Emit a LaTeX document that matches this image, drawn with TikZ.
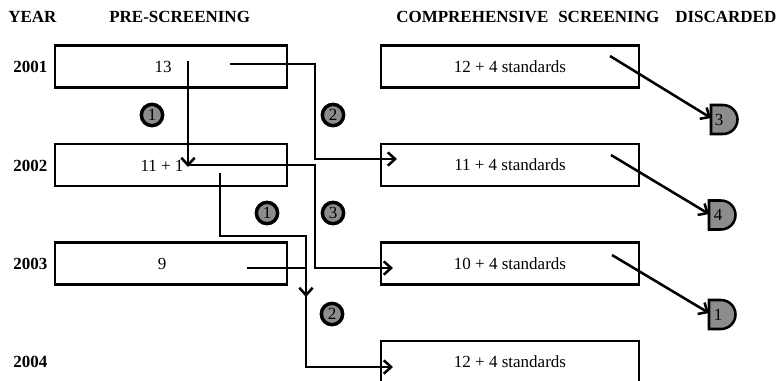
\documentclass[tikz,border=0pt]{standalone}
\usepackage{fontspec}
\setmainfont{Liberation Serif}
\usetikzlibrary{arrows.meta}

% D-shaped "discarded" marker: left edge x, vertical centre y (pixel units)
\newcommand\discardmark[2]{%
  \draw[dbox] (#1,#2-14.5) -- (#1+12,#2-14.5)
    arc[start angle=90, end angle=-90, radius=10.875pt] -- (#1,#2+14.5) -- cycle;}

\begin{document}
\begin{tikzpicture}[x=0.75pt,y=-0.75pt,
  every node/.style={font=\fontsize{12.75}{15}\selectfont, inner sep=0pt},
  head/.style={font=\fontsize{12.75}{15}\selectfont\bfseries, anchor=west},
  stage/.style={draw, line width=1.9pt, minimum height=31.5pt},
  pre/.style={stage, minimum width=174pt},
  comp/.style={stage, minimum width=193.5pt},
  flow/.style={line width=1.9pt, -{Straight Barb[length=5.5pt,width=10pt]}},
  badge/.style={circle, draw, line width=2.6pt, fill=black!45, minimum size=16pt},
  dbox/.style={draw, line width=1.9pt, fill=black!45}
]
\useasboundingbox (0,0) rectangle (777,380);

% column headings
\node[head] (hyear) at (8,17) {YEAR};
\node[head] (hpre)  at (109,17) {PRE-SCREENING};
\node[head] (hcomp) at (396,17) {COMPREHENSIVE};
\node[head] (hscr)  at (558,17) {SCREENING};
\node[head] (hdis)  at (675,17) {DISCARDED};

% years
\node[head] (y1) at (13,67)  {2001};
\node[head] (y2) at (13,166) {2002};
\node[head] (y3) at (13,264) {2003};
\node[head] (y4) at (13,362) {2004};

% pre-screening boxes
\node[pre] (p1) at (171,66.5)  {};
\node[pre] (p2) at (171,165)   {};
\node[pre] (p3) at (171,263.3) {};
\node (p1t) at (163,67)  {13};
\node (p2t) at (162,166) {11 + 1};
\node (p3t) at (162,264) {9};

% comprehensive screening boxes
\node[comp] (c1) at (510,66.5)  {12 + 4 standards};
\node[comp] (c2) at (510,165)   {11 + 4 standards};
\node[comp] (c3) at (510,263.3) {10 + 4 standards};
\node[comp] (c4) at (510,362)   {12 + 4 standards};

% discarded markers
\discardmark{711}{119.5}
\discardmark{709}{215}
\discardmark{709}{314.5}
\node (k1) at (719,119.5) {3};
\node (k2) at (718,215)   {4};
\node (k3) at (718,314.5) {1};

% connector ends and bends
\coordinate (a1s) at (188,61);  \coordinate (a1e) at (188,167);
\coordinate (a2s) at (230,64);  \coordinate (a2b) at (315,159); \coordinate (a2e) at (397,159);
\coordinate (a3s) at (188,165); \coordinate (a3b) at (315,268); \coordinate (a3e) at (393,268);
\coordinate (a4s) at (220,173); \coordinate (a4b) at (306,236); \coordinate (a4e) at (306,297);
\coordinate (a5s) at (247,268); \coordinate (a5b) at (306,367); \coordinate (a5e) at (393,367);
\coordinate (d1s) at (610,56);  \coordinate (d1e) at (711,118);
\coordinate (d2s) at (611,155); \coordinate (d2e) at (709,214);
\coordinate (d3s) at (612,255); \coordinate (d3e) at (709,313);

% flows between years and stages
\draw[flow] (a1s) -- (a1e);
\draw[flow] (a2s) -| (a2b) -- (a2e);
\draw[flow] (a3s) -| (a3b) -- (a3e);
\draw[flow] (a4s) |- (a4b) -- (a4e);
\draw[flow] (a5s) -| (a5b) -- (a5e);

% flows to the discarded markers
\draw[flow] (d1s) -- (d1e);
\draw[flow] (d2s) -- (d2e);
\draw[flow] (d3s) -- (d3e);

% numbered badges
\node[badge] (n1) at (152,115) {1};
\node[badge] (n2) at (333,115) {2};
\node[badge] (n3) at (267,213) {1};
\node[badge] (n4) at (333,213) {3};
\node[badge] (n5) at (332,314) {2};
\end{tikzpicture}
\end{document}
